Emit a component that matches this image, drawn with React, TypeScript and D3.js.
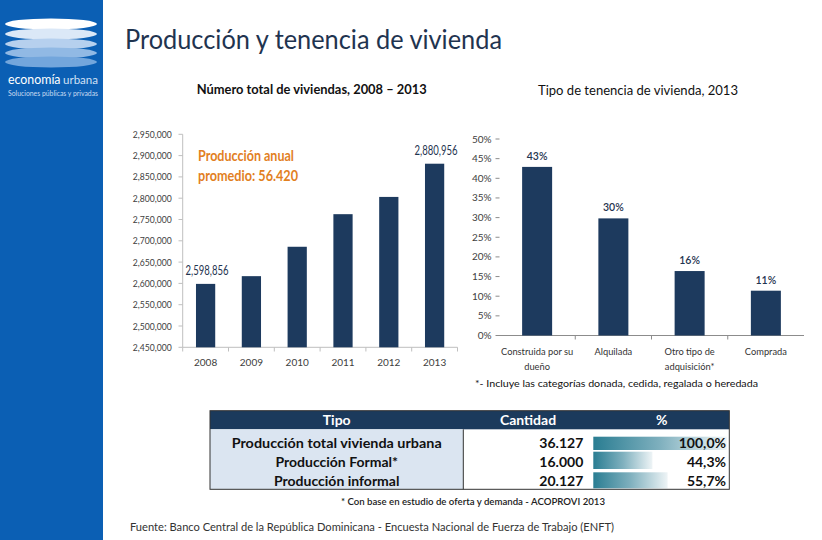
import React from "react";
import * as d3 from "d3";

const years = ["2008", "2009", "2010", "2011", "2012", "2013"];
const viviendas = [2598856, 2617000, 2686000, 2762500, 2803000, 2880956];
const leftTicks = [2450000, 2500000, 2550000, 2600000, 2650000, 2700000, 2750000, 2800000, 2850000, 2900000, 2950000];
const labelledYears = ["2008", "2013"];

const tenencia = ["Construida por su\ndueño", "Alquilada", "Otro tipo de\nadquisición*", "Comprada"];
const tenenciaPct = [42.9, 29.8, 16.4, 11.4];
const rightTicks = [0, 5, 10, 15, 20, 25, 30, 35, 40, 45, 50];

const tableHeaders = ["Tipo", "Cantidad", "%"];
const tableTypes = ["Producción total vivienda urbana", "Producción Formal*", "Producción informal"];
const tableQty = ["36.127", "16.000", "20.127"];
const tablePct = [100.0, 44.3, 55.7];

const FONT = "Lato, 'Open Sans', sans-serif";
const NAVY = "#1d3a5e";
const DARK = "#1f3450";

export default function App() {
  // left chart
  const lx = d3.scaleBand<string>().domain(years).range([182.7, 457.5]);
  const ly = d3.scaleLinear().domain([2450000, 2950000]).range([347.3, 134.3]);
  const lbw = lx.bandwidth() * 0.42;
  const fmt = d3.format(",");

  // right chart
  const rx = d3.scaleBand<string>().domain(tenencia).range([499, 804]);
  const ry = d3.scaleLinear().domain([0, 50]).range([335.5, 139]);
  const rbw = 30;

  // table
  const pctX = d3.scaleLinear().domain([0, 100]).range([0, 133.4]);
  const rowTop = [436.7, 451.7, 472.3];
  const rowBot = [450, 469, 488.3];
  const rowBase = [447.5, 466.5, 486];

  const ellipses = [
    { cy: 24, fill: "#ffffff" },
    { cy: 34, fill: "#dbe8f7" },
    { cy: 44, fill: "#b6d0ee" },
    { cy: 53, fill: "#91b9e4" },
    { cy: 62, fill: "#73a6dc" },
  ];

  return (
    <svg width={822} height={540} style={{ position: "absolute", left: 0, top: 0, background: "#fff" }} fontFamily={FONT}>
      <defs>
        <linearGradient id="tg" x1="0" x2="1" y1="0" y2="0">
          <stop offset="0" stopColor="#2a7d92" />
          <stop offset="0.5" stopColor="#7fb0be" />
          <stop offset="1" stopColor="#eef4f6" />
        </linearGradient>
      </defs>
      <rect x={0} y={0} width={822} height={540} fill="#fff" />
      {/* sidebar */}
      <rect x={0} y={0} width={103} height={540} fill="#0b5fb4" />
      {ellipses.map((e, i) => (
        <ellipse key={i} cx={51} cy={e.cy} rx={46} ry={5.5} fill={e.fill} />
      ))}
      <text x={8} y={84} fontSize={13} fill="#fff" textLength={52.5} lengthAdjust="spacingAndGlyphs">
        economía
      </text>
      <text x={63} y={84} fontSize={11.5} fill="#cfe0f5" textLength={35} lengthAdjust="spacingAndGlyphs">
        urbana
      </text>
      <text x={8} y={96} fontSize={7} fill="#c9dcf2" textLength={90} lengthAdjust="spacingAndGlyphs">
        Soluciones públicas y privadas
      </text>

      {/* title */}
      <text x={125} y={49} fontSize={27} fill={DARK} textLength={377} lengthAdjust="spacingAndGlyphs">
        Producción y tenencia de vivienda
      </text>
      <text x={311.7} y={94} fontSize={13} fontWeight={700} fill="#111" textAnchor="middle" textLength={230} lengthAdjust="spacingAndGlyphs">
        Número total de viviendas, 2008 – 2013
      </text>
      <text x={638} y={95} fontSize={13} fill="#111" textAnchor="middle" textLength={200} lengthAdjust="spacingAndGlyphs">
        Tipo de tenencia de vivienda, 2013
      </text>

      {/* left chart */}
      <line x1={182.7} x2={182.7} y1={134.3} y2={347.3} stroke="#bfbfbf" />
      {leftTicks.map((t) => (
        <g key={t}>
          <line x1={178.5} x2={182.7} y1={ly(t)} y2={ly(t)} stroke="#bfbfbf" />
          <text x={171.7} y={ly(t) + 3.5} fontSize={10} fill="#404040" textAnchor="end" textLength={39} lengthAdjust="spacingAndGlyphs">
            {fmt(t)}
          </text>
        </g>
      ))}
      <line x1={182.7} x2={457.5} y1={347.3} y2={347.3} stroke="#bfbfbf" />
      {years.map((y) => (
        <line key={"lt" + y} x1={lx(y)!} x2={lx(y)!} y1={347.3} y2={351.5} stroke="#bfbfbf" />
      ))}
      <line x1={457.5} x2={457.5} y1={347.3} y2={351.5} stroke="#bfbfbf" />
      {years.map((y, i) => (
        <rect key={y} x={lx(y)! + (lx.bandwidth() - lbw) / 2} y={ly(viviendas[i])} width={lbw} height={ly(2450000) - ly(viviendas[i])} fill={NAVY} />
      ))}
      {years.map((y) => (
        <text key={"yl" + y} x={lx(y)! + lx.bandwidth() / 2} y={366} fontSize={10} fill="#404040" textAnchor="middle">
          {y}
        </text>
      ))}
      {years.map((y, i) =>
        labelledYears.includes(y) ? (
          <text key={"vl" + y} x={lx(y)! + lx.bandwidth() / 2 + 1.5} y={ly(viviendas[i]) - 9} fontSize={12.5} fill={DARK} textAnchor="middle" textLength={43} lengthAdjust="spacingAndGlyphs">
            {fmt(viviendas[i])}
          </text>
        ) : null
      )}
      <text x={198} y={160.5} fontSize={15} fontWeight={700} fill="#e2801f" textLength={96} lengthAdjust="spacingAndGlyphs">
        Producción anual
      </text>
      <text x={198} y={181} fontSize={15} fontWeight={700} fill="#e2801f" textLength={100} lengthAdjust="spacingAndGlyphs">
        promedio: 56.420
      </text>

      {/* right chart */}
      {rightTicks.map((t) => (
        <g key={t}>
          <line x1={495.5} x2={499.5} y1={ry(t)} y2={ry(t)} stroke="#8c8c8c" />
          <text x={491.5} y={ry(t) + 3.5} fontSize={10} fill="#404040" textAnchor="end">
            {t}%
          </text>
        </g>
      ))}
      <line x1={497} x2={804} y1={ry(0)} y2={ry(0)} stroke="#8c8c8c" />
      {tenencia.slice(1).map((c) => (
        <line key={"rt" + c} x1={rx(c)!} x2={rx(c)!} y1={ry(0)} y2={ry(0) + 4} stroke="#8c8c8c" />
      ))}
      {tenencia.map((c, i) => (
        <rect key={c} x={rx(c)! + (rx.bandwidth() - rbw) / 2} y={ry(tenenciaPct[i])} width={rbw} height={ry(0) - ry(tenenciaPct[i])} fill={NAVY} />
      ))}
      {tenencia.map((c, i) => (
        <text key={"rl" + c} x={rx(c)! + rx.bandwidth() / 2} y={ry(tenenciaPct[i]) - 7} fontSize={10.5} fontWeight={600} fill={DARK} textAnchor="middle">
          {Math.round(tenenciaPct[i])}%
        </text>
      ))}
      {tenencia.map((c) => (
        <text key={"rc" + c} x={rx(c)! + rx.bandwidth() / 2} y={355} fontSize={9.3} fill="#333" textAnchor="middle">
          {c.split("\n").map((ln, j) => (
            <tspan key={j} x={rx(c)! + rx.bandwidth() / 2} dy={j === 0 ? 0 : 15}>
              {ln}
            </tspan>
          ))}
        </text>
      ))}
      <text x={475} y={387} fontSize={10} fill="#111" textLength={283} lengthAdjust="spacingAndGlyphs">
        *- Incluye las categorías donada, cedida, regalada o heredada
      </text>

      {/* table */}
      <rect x={210} y={410.7} width={519.3} height={18.6} fill="#1b3a5c" />
      <rect x={210} y={429.3} width={253.3} height={60} fill="#dbe5f1" />
      <text x={336.7} y={425} fontSize={14} fontWeight={700} fill="#fff" textAnchor="middle">
        {tableHeaders[0]}
      </text>
      <text x={528} y={425} fontSize={14} fontWeight={700} fill="#fff" textAnchor="middle">
        {tableHeaders[1]}
      </text>
      <text x={661.7} y={425} fontSize={14} fontWeight={700} fill="#fff" textAnchor="middle">
        {tableHeaders[2]}
      </text>
      {tableTypes.map((t, i) => (
        <g key={t}>
          <text x={336.7} y={rowBase[i]} fontSize={14} fontWeight={700} fill="#111" textAnchor="middle" textLength={i === 0 ? 210 : undefined} lengthAdjust="spacingAndGlyphs">
            {t}
          </text>
          <text x={583.3} y={rowBase[i]} fontSize={14} fontWeight={700} fill="#111" textAnchor="end">
            {tableQty[i]}
          </text>
          <rect x={593.3} y={rowTop[i]} width={pctX(tablePct[i])} height={rowBot[i] - rowTop[i]} fill="url(#tg)" />
          <text x={726} y={rowBase[i]} fontSize={14} fontWeight={700} fill="#111" textAnchor="end">
            {tablePct[i].toFixed(1).replace(".", ",")}%
          </text>
        </g>
      ))}
      <rect x={210} y={410.7} width={519.3} height={78.6} fill="none" stroke="#333" strokeWidth={1} />
      <line x1={463.3} x2={463.3} y1={429.3} y2={489.3} stroke="#333" />
      <text x={473} y={505} fontSize={10} fontWeight={600} fill="#222" textAnchor="middle" textLength={264} lengthAdjust="spacingAndGlyphs">
        * Con base en estudio de oferta y demanda - ACOPROVI 2013
      </text>
      <text x={130} y={531} fontSize={11} fill="#333" textLength={484} lengthAdjust="spacingAndGlyphs">
        Fuente: Banco Central de la República Dominicana - Encuesta Nacional de Fuerza de Trabajo (ENFT)
      </text>
    </svg>
  );
}
